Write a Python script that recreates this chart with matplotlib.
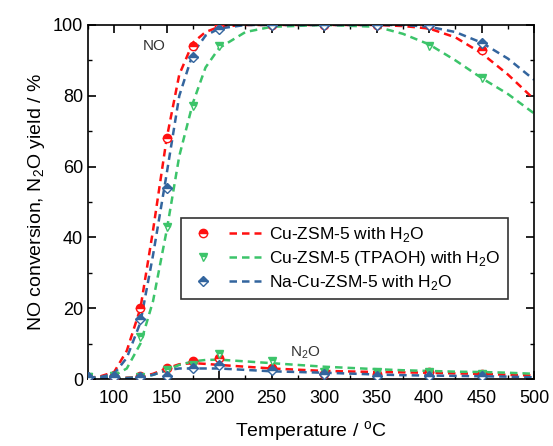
import matplotlib
matplotlib.use("Agg")
matplotlib.rcParams.update({
    "font.family": ["Liberation Sans", "DejaVu Sans"],
    "font.size": 12,
    "mathtext.fontset": "custom",
    "mathtext.rm": "Liberation Sans",
})
import matplotlib.pyplot as plt
from matplotlib.ticker import MultipleLocator
from matplotlib.legend_handler import HandlerTuple
from matplotlib.lines import Line2D

# ---- measured points ----
temp = [75, 100, 125, 150, 175, 200, 250, 300, 350, 400, 450]
no_cu = [0.5, 1, 20, 68, 94, 100, 100, 100, 100, 100, 93]
no_tpa = [0.5, 1, 12, 43, 77, 94, 100, 100, 100, 94, 85]
no_na = [0.5, 1, 17, 54, 91, 99, 100, 100, 100, 100, 95]
n2o_cu = [0.5, 0.5, 1, 3, 5, 6, 3, 1.5, 1.5, 2, 1.5]
n2o_tpa = [0.5, 1, 0.5, 2.5, 4, 7, 5, 2, 2, 2, 1.5]
n2o_na = [0.5, 0.5, 0.5, 1, 3, 4, 2.5, 1.5, 1, 0.8, 1]

# ---- fitted curves ----
tfit = [75, 87, 100, 112, 125, 137, 150, 162, 175, 187, 200, 225, 250, 300,
        350, 375, 400, 425, 450, 475, 500]
fit_no_cu = [0.3, 0.8, 2, 8, 20, 42, 68, 86, 95, 98, 99.5, 100, 100, 100,
             100, 99.7, 99, 96.5, 92, 86, 79]
fit_no_tpa = [0.2, 0.5, 1, 3, 10, 22, 42, 63, 78, 88, 93.5, 98, 99.5, 100,
              99.5, 97.5, 94.5, 90, 85, 80.5, 75]
fit_no_na = [0.2, 0.6, 1.5, 6, 16, 35, 58, 80, 92, 97, 99, 100, 100, 100,
             100, 100, 99.5, 98, 95, 90.5, 84.5]
fit_n2o_cu = [0.5, 0.4, 0.3, 0.4, 0.6, 1.5, 3, 4.2, 4.5, 4.3, 4, 3.5, 3, 2.3,
              2, 1.9, 1.8, 1.6, 1.5, 1.2, 1]
fit_n2o_tpa = [0.4, 0.3, 0.3, 0.3, 0.5, 1.2, 2.5, 4, 5, 5.4, 5.5, 5, 4.5, 3.5,
               2.8, 2.5, 2.3, 2.1, 2, 1.8, 1.5]
fit_n2o_na = [0.4, 0.3, 0.3, 0.3, 0.5, 1.2, 2.5, 3, 3, 3, 3, 2.6, 2.2, 1.8,
              1.3, 1.1, 1, 0.9, 0.8, 0.7, 0.5]

labels = ["Cu-ZSM-5 with H$_2$O", "Cu-ZSM-5 (TPAOH) with H$_2$O",
          "Na-Cu-ZSM-5 with H$_2$O"]
colors = ["#ff1010", "#3cc46a", "#33659e"]
markers = ["o", "v", "D"]

fig = plt.figure(figsize=(5.53, 4.46), dpi=100)
ax = fig.add_axes([0.159, 0.150, 0.807, 0.794])

series = [
    (no_cu, n2o_cu, fit_no_cu, fit_n2o_cu),
    (no_tpa, n2o_tpa, fit_no_tpa, fit_n2o_tpa),
    (no_na, n2o_na, fit_no_na, fit_n2o_na),
]
dash = (0, (3, 2))
handles = []
for (no, n2o, fno, fn2o), c, m in zip(series, colors, markers):
    ms = 5 if m == "D" else 6
    mk = dict(marker=m, ms=ms, color=c, mec=c, fillstyle="top",
              markerfacecoloralt="white", mew=1.0)
    ax.plot(temp, no, ls="none", zorder=3, **mk)
    ax.plot(temp, n2o, ls="none", zorder=3, **mk)
    ax.plot(tfit, fno, ls=dash, lw=1.8, color=c, zorder=2)
    ax.plot(tfit, fn2o, ls=dash, lw=1.8, color=c, zorder=2)
    h_mk = Line2D([], [], ls="none", **mk)
    h_ln = Line2D([], [], ls=dash, lw=1.8, color=c)
    handles.append((h_mk, h_ln))

ax.text(138, 94, "NO", fontsize=11, color="#333333", ha="center", va="center")
ax.text(282, 7.5, "N$_2$O", fontsize=11, color="#333333", ha="center",
        va="center")

ax.set_xlim(75, 500)
ax.set_ylim(0, 100)
ax.xaxis.set_major_locator(MultipleLocator(50))
ax.xaxis.set_minor_locator(MultipleLocator(25))
ax.yaxis.set_major_locator(MultipleLocator(20))
ax.yaxis.set_minor_locator(MultipleLocator(10))
ax.tick_params(which="both", direction="in", top=True, right=True,
               labelsize=13)
ax.tick_params(which="major", length=6, width=1.2)
ax.tick_params(which="minor", length=3, width=1.0)
ax.tick_params(axis="x", pad=8)
for sp in ax.spines.values():
    sp.set_linewidth(1.2)

ax.set_xlabel("Temperature / $^{\\mathrm{o}}$C", fontsize=14, labelpad=9)
ax.set_ylabel("NO conversion, N$_2$O yield / %", fontsize=14)

leg = ax.legend(handles, labels, loc="lower left",
                bbox_to_anchor=(0.208, 0.226), borderaxespad=0,
                handler_map={tuple: HandlerTuple(ndivide=None, pad=0.6)},
                fontsize=12.5, frameon=True, fancybox=False,
                edgecolor="black", handlelength=4.2, borderpad=0.4,
                labelspacing=0.3, handletextpad=0.5)
leg.get_frame().set_linewidth(1.2)

fig.savefig("out.png", dpi=100)
